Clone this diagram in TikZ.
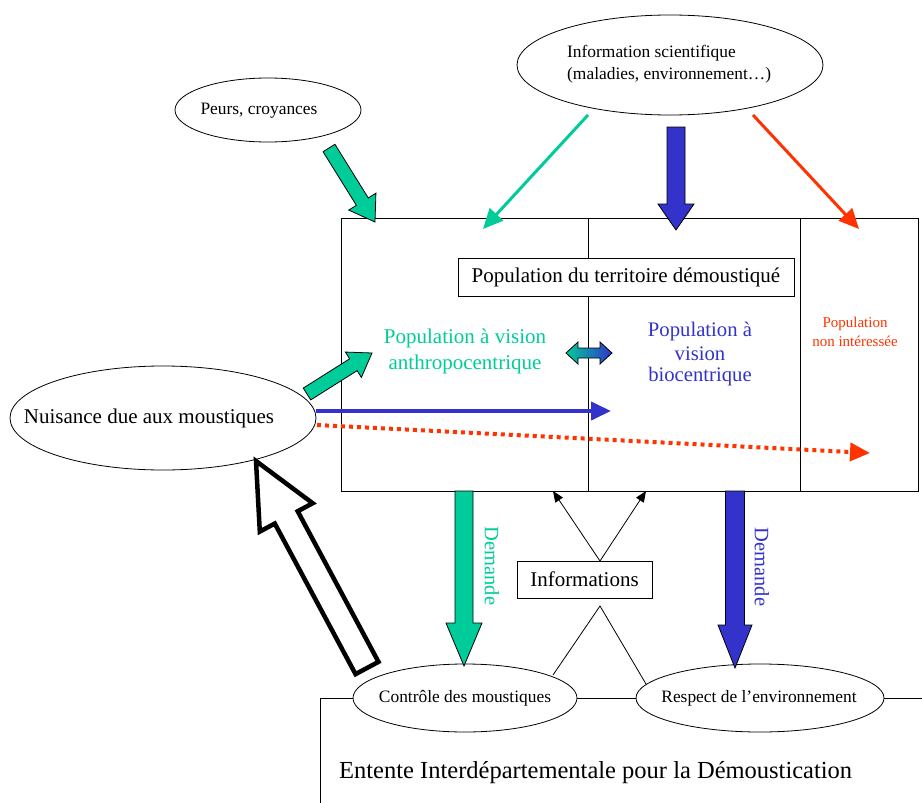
\documentclass[tikz,border=0pt]{standalone}
\usepackage{fontspec}
\setmainfont{Liberation Serif}
\usetikzlibrary{calc,arrows.meta,shapes.geometric}
\definecolor{teal}{RGB}{0,204,153}
\definecolor{vblue}{RGB}{51,51,204}
\definecolor{vred}{RGB}{255,51,0}
\newcommand{\fs}[1]{\fontsize{#1}{#1}\selectfont}
\newcommand{\blockarr}[6]{%
  \coordinate (ba-h) at ($(#3)!#6!(#2)$);
  \draw[#1] ($(#2)!#4!90:(#3)$) -- ($(ba-h)!#4!90:(#3)$) -- ($(ba-h)!#5!90:(#3)$) -- (#3)
    -- ($(ba-h)!#5!-90:(#3)$) -- ($(ba-h)!#4!-90:(#3)$) -- ($(#2)!#4!-90:(#3)$) -- cycle;}
\tikzset{
  ell/.style={draw, ellipse, inner sep=0pt, line width=0.8pt},
  box/.style={draw, rectangle, line width=0.8pt, fill=white},
  thinarr/.style={line width=3pt, -{Triangle[length=20pt,width=18pt]}},
  greenblock/.style={fill=teal, draw=black, line width=0.8pt},
  blueblock/.style={fill=vblue, draw=black, line width=0.8pt},
  hollow/.style={fill=white, draw=black, line width=4.5pt, line join=miter},
  infarr/.style={line width=0.8pt, -{Triangle[length=11pt,width=9pt]}},
  lbl/.style={inner sep=0pt},
}
\begin{document}
\begin{tikzpicture}[x=1pt,y=-1pt]
\useasboundingbox (0,0) rectangle (922,803);

% main box and dividers
\draw[line width=0.8pt] (341,218) rectangle (918,491);
\draw[line width=0.8pt] (588,218) -- (588,491);
\draw[line width=0.8pt] (800,218) -- (800,491);
\node[box, minimum width=336pt, minimum height=38pt, inner sep=0pt] (pop) at (626,277) {};
\node[lbl] (popt) at (626,277) {\fs{21}Population du territoire démoustiqué};

% ellipses
\node[ell, minimum width=306pt, minimum height=100pt] (info) at (670,65) {};
\node[lbl, align=left, anchor=west] (infot) at (567,64) {\fs{17.4}Information scientifique\\[5pt]\fs{17.4}(maladies, environnement…)};
\node[ell, minimum width=186pt, minimum height=64pt] (peurs) at (268,110) {};
\node[lbl] (peurst) at (259,111) {\fs{17.4}Peurs, croyances};
\node[ell, minimum width=306pt, minimum height=104pt] (nuis) at (163,418) {};
\node[lbl] (nuist) at (149,418) {\fs{21}Nuisance due aux moustiques};
\node[ell, minimum width=224pt, minimum height=68pt] (ctrl) at (465,698) {};
\node[lbl] (ctrlt) at (465,698) {\fs{17.4}Contrôle des moustiques};
\node[ell, minimum width=248pt, minimum height=68pt] (resp) at (760,698) {};
\node[lbl] (respt) at (759,698) {\fs{17.4}Respect de l’environnement};

% texts in main box
\node[lbl, align=center, text=teal] (anthro) at (465,351) {\fs{21}Population à vision\\[6pt]\fs{21}anthropocentrique};
\node[lbl, align=center, text=vblue] (bio) at (700,354) {\fs{20.7}Population à\\[5pt]\fs{20.7}vision\\[5pt]\fs{20.7}biocentrique};
\node[lbl, align=center, text=vred] (nonint) at (855,332) {\fs{15}Population\\[4.5pt]\fs{15}non intéressée};

% Informations
\node[box, minimum width=135pt, minimum height=37pt, inner sep=0pt] (infos) at (584.5,579.5) {};
\node[lbl] (infost) at (584.5,579.5) {\fs{21}Informations};

% Entente frame
\coordinate (ent-b) at (320,803);
\coordinate (ent-c) at (320,698);
\coordinate (ent-r) at (922,698);
\draw[line width=0.8pt] (ent-b) -- (ent-c) -- (ctrl.west);
\draw[line width=0.8pt] (ctrl.east) -- (resp.west);
\draw[line width=0.8pt] (resp.east) -- (ent-r);
\node[lbl, anchor=west] (entente) at (339,773) {\fs{24.5}Entente Interdépartementale pour la Démoustication};

% thin arrows from information scientifique
\coordinate (gs) at (588,115); \coordinate (ge) at (483,229);
\coordinate (rs) at (753,115); \coordinate (re) at (859,229);
\draw[thinarr, teal] (gs) -- (ge);
\draw[thinarr, vred] (rs) -- (re);
\coordinate (bs) at (676,127); \coordinate (be) at (676,230);
\blockarr{blueblock}{bs}{be}{9pt}{18pt}{26pt}

% peurs arrow
\coordinate (ps) at (329,148); \coordinate (pe) at (375,222);
\blockarr{greenblock}{ps}{pe}{7pt}{16pt}{24pt}

% nuisance arrows
\coordinate (ns) at (307,394); \coordinate (ne) at (372,353);
\blockarr{greenblock}{ns}{ne}{7pt}{15pt}{22pt}
\coordinate (nbs) at (316,411); \coordinate (nbe) at (611,411);
\draw[line width=4pt, vblue, -{Triangle[length=20pt,width=18pt]}] (nbs) -- (nbe);
\coordinate (nrs) at (317,425); \coordinate (nre) at (870,453);
\draw[line width=4pt, vred, dash pattern=on 4pt off 4pt, -{Triangle[length=20pt,width=18pt]}] (nrs) -- (nre);

% double gradient arrow
\shade[left color=teal, right color=vblue, draw=black, line width=0.8pt]
  (566,353) -- (578,342) -- (578,348) -- (600,348) -- (600,342) -- (612,353)
  -- (600,364) -- (600,358) -- (578,358) -- (578,364) -- cycle;

% Demande arrows
\coordinate (dgs) at (464,491); \coordinate (dge) at (464,666);
\blockarr{greenblock}{dgs}{dge}{9pt}{18pt}{43pt}
\coordinate (dbs) at (735,491); \coordinate (dbe) at (735,668);
\blockarr{blueblock}{dbs}{dbe}{9.5pt}{17pt}{43pt}
\node[lbl, rotate=-90, text=teal] (dg) at (492,566) {\fs{20.5}Demande};
\node[lbl, rotate=-90, text=vblue] (db) at (762,567) {\fs{20.5}Demande};

% Informations arrows
\coordinate (it) at (600,561);
\coordinate (il) at (553,491); \coordinate (ir) at (646,491);
\draw[infarr] (it) -- (il);
\draw[infarr] (it) -- (ir);
\coordinate (ib) at (600,606);
\coordinate (ibl) at (553,675); \coordinate (ibr) at (646,684);
\draw[line width=0.8pt] (ibl) -- (ib) -- (ibr);

% hollow arrow
\coordinate (hs) at (367,668); \coordinate (he) at (256,461);
\blockarr{hollow}{hs}{he}{13pt}{30pt}{64pt}
\end{tikzpicture}
\end{document}
